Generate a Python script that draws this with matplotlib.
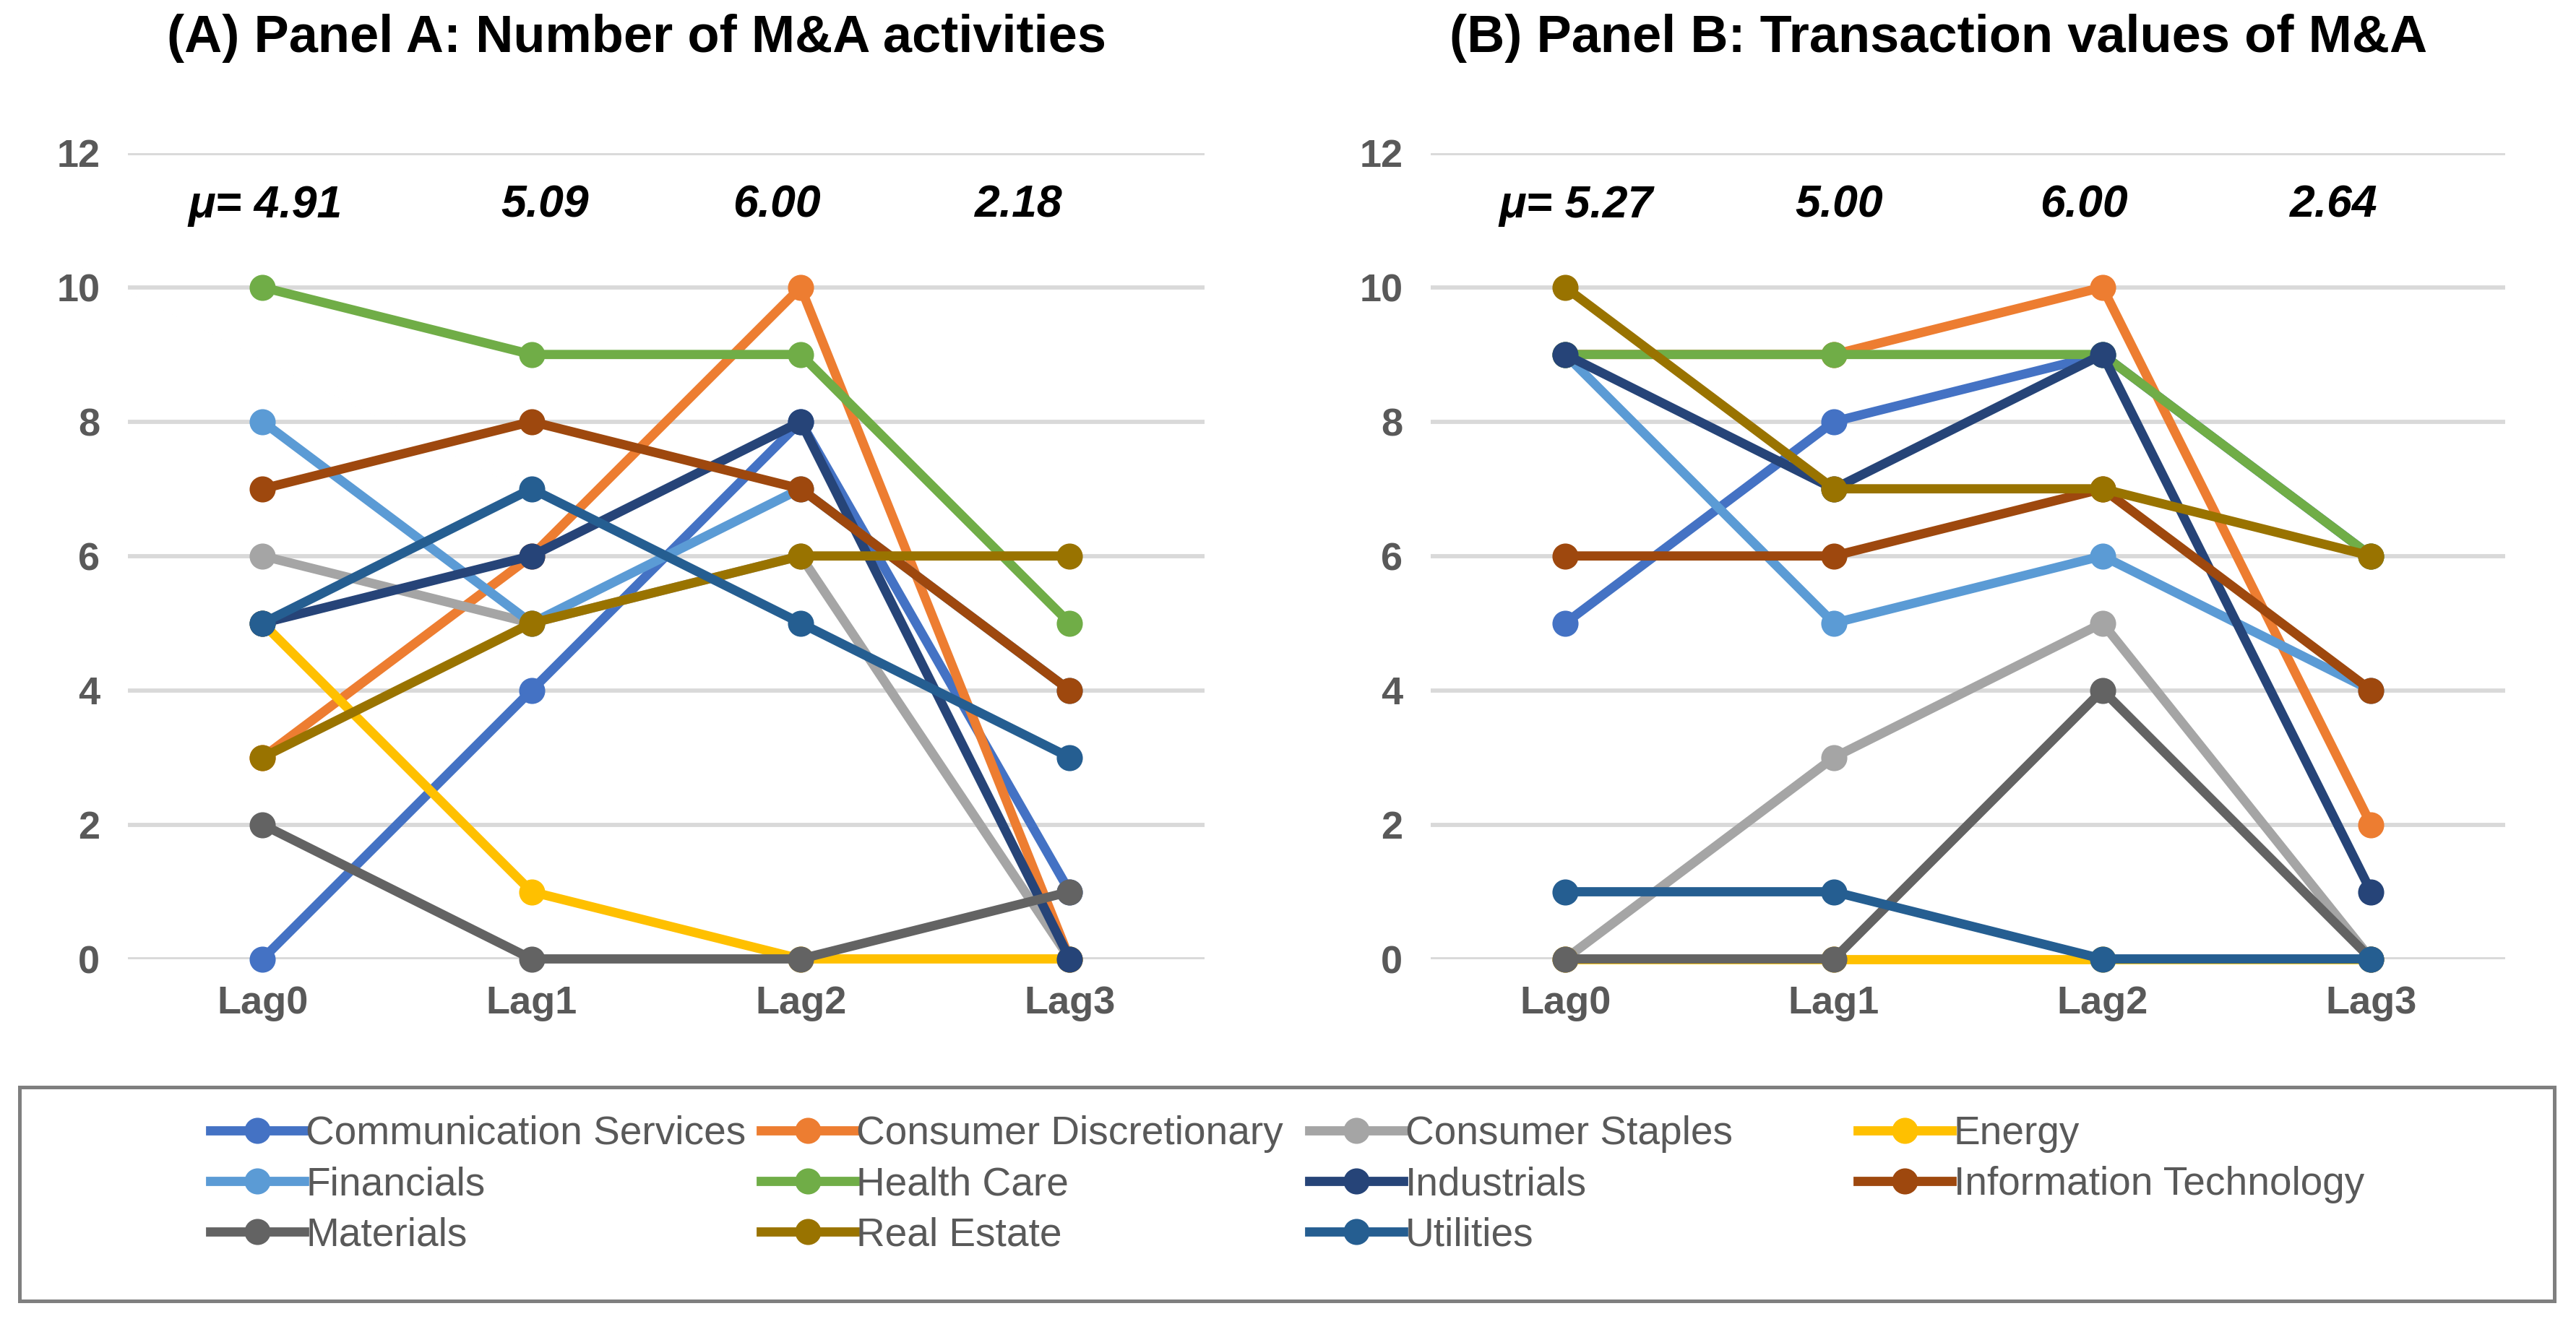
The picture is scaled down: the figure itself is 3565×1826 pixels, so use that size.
import numpy as np
import matplotlib
matplotlib.use("Agg")
import matplotlib.pyplot as plt
from matplotlib.lines import Line2D
from matplotlib.patches import Rectangle

plt.rcParams['font.family'] = ['Liberation Sans', 'DejaVu Sans']

# Data

lags = ["Lag0", "Lag1", "Lag2", "Lag3"]
sectors = ["Communication Services", "Consumer Discretionary", "Consumer Staples", "Energy",
           "Financials", "Health Care", "Industrials", "Information Technology",
           "Materials", "Real Estate", "Utilities"]
colors = ["#4472C4", "#ED7D31", "#A5A5A5", "#FFC000", "#5B9BD5", "#70AD47",
          "#264478", "#9E480E", "#636363", "#997300", "#255E91"]

# Panel A: number of M&A activities (one row per sector, Lag0..Lag3)
count_comm = [0, 4, 8, 1]
count_disc = [3, 6, 10, 0]
count_stap = [6, 5, 6, 0]
count_ener = [5, 1, 0, 0]
count_fin = [8, 5, 7, 4]
count_hlth = [10, 9, 9, 5]
count_ind = [5, 6, 8, 0]
count_it = [7, 8, 7, 4]
count_mat = [2, 0, 0, 1]
count_re = [3, 5, 6, 6]
count_util = [5, 7, 5, 3]

# Panel B: transaction values of M&A
value_comm = [5, 8, 9, 6]
value_disc = [9, 9, 10, 2]
value_stap = [0, 3, 5, 0]
value_ener = [0, 0, 0, 0]
value_fin = [9, 5, 6, 4]
value_hlth = [9, 9, 9, 6]
value_ind = [9, 7, 9, 1]
value_it = [6, 6, 7, 4]
value_mat = [0, 0, 4, 0]
value_re = [10, 7, 7, 6]
value_util = [1, 1, 0, 0]

panel_a = [count_comm, count_disc, count_stap, count_ener, count_fin, count_hlth,
           count_ind, count_it, count_mat, count_re, count_util]
panel_b = [value_comm, value_disc, value_stap, value_ener, value_fin, value_hlth,
           value_ind, value_it, value_mat, value_re, value_util]

# where the mean labels sit along the category axis
mu_pos_a = [0.01, 1.05, 1.91, 2.81]
mu_pos_b = [0.04, 1.02, 1.93, 2.86]

# Figure

fig = plt.figure(figsize=(17.825, 9.13), dpi=200)
fig.patch.set_facecolor("white")

ax_a = fig.add_axes([0.0497, 0.273, 0.4178, 0.611])
ax_b = fig.add_axes([0.5555, 0.273, 0.4171, 0.611])

gray_txt = "#595959"
LW = 4.6
MS = 12

def draw_panel(ax, rows, mu_pos):
    x = np.arange(len(lags))
    for vals, c in zip(rows, colors):
        ax.plot(x, vals, color=c, lw=LW, marker="o", ms=MS, solid_capstyle="round",
                clip_on=False)
    ax.set_xlim(-0.5, 3.5)
    ax.set_ylim(0, 12)
    ax.set_yticks(range(0, 13, 2))
    ax.set_xticks(x)
    ax.set_xticklabels(lags)
    ax.grid(axis="y", color="#D9D9D9", lw=2.1)
    ax.set_axisbelow(True)
    for s in ax.spines.values():
        s.set_visible(False)
    ax.tick_params(length=0, labelsize=19.5, labelcolor=gray_txt)
    ax.tick_params(axis="y", pad=14)
    ax.tick_params(axis="x", pad=13)
    for lbl in ax.get_xticklabels() + ax.get_yticklabels():
        lbl.set_fontweight("bold")
    means = np.mean(np.array(rows), axis=0)
    for i, (m, p) in enumerate(zip(means, mu_pos)):
        txt = "μ= {:.2f}".format(m) if i == 0 else "{:.2f}".format(m)
        ax.text(p, 11.22, txt, ha="center", va="center", fontsize=22.5,
                fontweight="bold", fontstyle="italic", color="black")

draw_panel(ax_a, panel_a, mu_pos_a)
draw_panel(ax_b, panel_b, mu_pos_b)

fig.text(0.247, 0.971, "(A) Panel A: Number of M&A activities", ha="center", va="center",
         fontsize=26, fontweight="bold")
fig.text(0.7526, 0.971, "(B) Panel B: Transaction values of M&A", ha="center", va="center",
         fontsize=26, fontweight="bold")

# Legend box
fig.patches.append(Rectangle((0.0077, 0.0137), 0.984, 0.1619, transform=fig.transFigure,
                             fill=False, edgecolor="#7F7F7F", lw=1.8))

handles = [Line2D([0], [0], color=c, lw=LW, marker="o", ms=MS) for c in colors]
col_x = [0.0816, 0.2953, 0.5083, 0.7213]
for j in range(4):
    idx = list(range(j, len(sectors), 4))
    fig.legend([handles[i] for i in idx], [sectors[i] for i in idx],
               loc="upper left", bbox_to_anchor=(col_x[j], 0.1545),
               frameon=False, fontsize=19.8, handlelength=2.36, handletextpad=0.05,
               labelspacing=0.33, borderpad=0, borderaxespad=0, labelcolor=gray_txt)

fig.savefig("out.png", dpi=200, facecolor="white")
